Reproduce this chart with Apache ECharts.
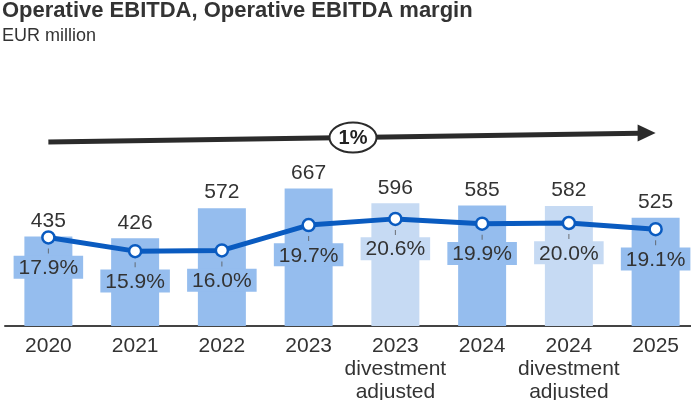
<!DOCTYPE html>
<html>
<head>
<meta charset="utf-8">
<script src="https://cdn.jsdelivr.net/npm/echarts@6/dist/echarts.min.js"></script>
<style>
  html, body { margin: 0; padding: 0; background: #fff; }
  #chart { width: 691px; height: 400px; }
</style>
</head>
<body>
<div id="chart"></div>
<script>
  // data
  const categories = ['2020', '2021', '2022', '2023', '2023\ndivestment\nadjusted', '2024', '2024\ndivestment\nadjusted', '2025'];
  const ebitda = [435, 426, 572, 667, 596, 585, 582, 525];
  const margin = [17.9, 15.9, 16.0, 19.7, 20.6, 19.9, 20.0, 19.1];
  const cagrLabel = '1%';

  const FONT = 'Liberation Sans';
  const TEXT = '#333333';
  const BAR = '#95bdee';
  const BAR_LIGHT = '#c6daf3';
  const LINE = '#0a5bc0';

  const colorOf = (i) => categories[i].indexOf('divestment') >= 0 ? BAR_LIGHT : BAR;

  const myChart = echarts.init(document.getElementById('chart'));

  myChart.setOption({
    animation: false,
    textStyle: { fontFamily: FONT },
    title: {
      text: 'Operative EBITDA, Operative EBITDA margin',
      subtext: 'EUR million',
      left: 2,
      top: 0,
      padding: 0,
      itemGap: 5,
      textStyle: { fontFamily: FONT, fontSize: 22, fontWeight: 'bold', color: TEXT },
      subtextStyle: { fontFamily: FONT, fontSize: 18, color: TEXT }
    },
    grid: { left: 5, width: 694, top: 120, height: 206, containLabel: false, outerBoundsMode: 'none' },
    xAxis: {
      type: 'category',
      data: categories,
      axisLine: { lineStyle: { color: '#444', width: 2 } },
      axisTick: { show: false },
      axisLabel: { fontFamily: FONT, fontSize: 21, color: TEXT, lineHeight: 23, margin: 9, interval: 0 }
    },
    yAxis: [
      { type: 'value', min: 0, max: 1000, show: false },
      { type: 'value', min: 5, max: 35, show: false }
    ],
    series: [
      {
        name: 'Operative EBITDA',
        type: 'bar',
        barWidth: 48,
        data: ebitda.map((v, i) => ({ value: v, itemStyle: { color: colorOf(i) } })),
        label: { show: true, position: 'top', distance: 5, fontFamily: FONT, fontSize: 21, color: TEXT }
      },
      {
        name: 'tick',
        type: 'scatter',
        yAxisIndex: 1,
        silent: true,
        symbol: 'rect',
        symbolSize: [1, 5],
        symbolOffset: [0, 13.5],
        itemStyle: { color: '#555' },
        z: 4,
        data: margin
      },
      {
        name: 'Operative EBITDA margin',
        type: 'line',
        yAxisIndex: 1,
        z: 5,
        data: margin.map((v, i) => ({
          value: v,
          label: { backgroundColor: colorOf(i) }
        })),
        lineStyle: { color: LINE, width: 5 },
        symbol: 'circle',
        symbolSize: 12,
        itemStyle: { color: '#fff', borderColor: LINE, borderWidth: 2.5 },
        label: {
          show: true,
          position: 'bottom',
          distance: 11,
          fontFamily: FONT,
          fontSize: 21,
          color: TEXT,
          padding: [2, 5, 0, 5],
          lineHeight: 21,
          formatter: (p) => p.value.toFixed(1) + '%'
        }
      }
    ]
  });

  // CAGR arrow from first to last category
  const x0 = myChart.convertToPixel({ xAxisIndex: 0 }, categories[0]);
  const x1 = myChart.convertToPixel({ xAxisIndex: 0 }, categories[categories.length - 1]);
  const y0 = 142, y1 = 133;
  const headLen = 18;
  const xm = (x0 + x1) / 2 + 1;
  const ym = y0 + (y1 - y0) * (xm - x0) / (x1 - x0);

  myChart.setOption({
    graphic: [
      {
        type: 'line',
        shape: { x1: x0, y1: y0, x2: x1 - headLen + 2, y2: y1 + 0.3 },
        style: { stroke: '#2b2b2b', lineWidth: 5 },
        z: 10
      },
      {
        type: 'polygon',
        shape: { points: [[x1, y1], [x1 - headLen, y1 - 8.5], [x1 - headLen, y1 + 8.5]] },
        style: { fill: '#2b2b2b' },
        z: 10
      },
      {
        type: 'ellipse',
        shape: { cx: xm, cy: ym, rx: 23.5, ry: 15 },
        style: { fill: '#fff', stroke: '#2b2b2b', lineWidth: 2 },
        z: 11
      },
      {
        type: 'text',
        x: xm,
        y: ym + 1,
        style: {
          text: cagrLabel,
          fontFamily: FONT,
          fontSize: 20,
          fontWeight: 'bold',
          fill: '#222',
          align: 'center',
          verticalAlign: 'middle'
        },
        z: 12
      }
    ]
  });
</script>
</body>
</html>
